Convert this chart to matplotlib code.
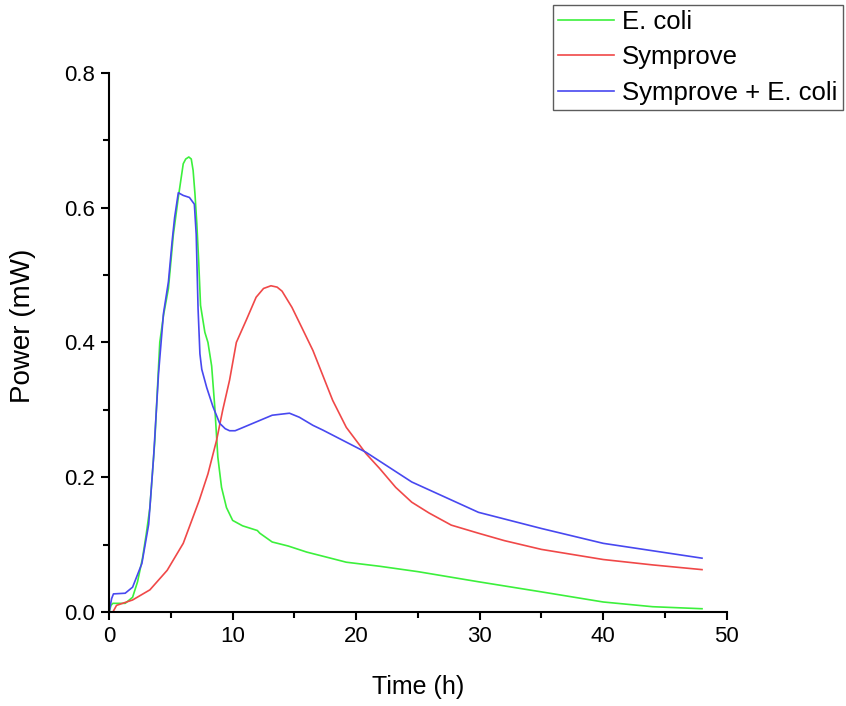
import matplotlib
matplotlib.use("Agg")
import matplotlib.pyplot as plt
from matplotlib.ticker import MultipleLocator, FormatStrFormatter

plt.rcParams['font.family'] = ['Liberation Sans', 'DejaVu Sans']

ecoli_t = [0, 0.15, 0.3, 1.3, 1.9, 2.3, 2.7, 3.0, 3.3, 3.7, 4.1, 4.4, 4.8, 5.2, 5.6, 6.0, 6.2, 6.45,
           6.65, 6.8, 6.95, 7.1, 7.25, 7.4, 7.75, 8.0, 8.3, 8.55, 8.8, 9.1, 9.5, 10.0, 10.8, 12.0,
           12.2, 13.2, 14.5, 16.0, 17.5, 19.2, 21.9, 25.0, 29.9, 35.0, 40.0, 44.0, 48.0]
ecoli_p = [0, 0.010, 0.013, 0.013, 0.022, 0.045, 0.08, 0.115, 0.155, 0.255, 0.40, 0.44, 0.48, 0.56,
           0.615, 0.665, 0.672, 0.675, 0.672, 0.655, 0.62, 0.576, 0.52, 0.455, 0.415, 0.40, 0.365,
           0.305, 0.23, 0.185, 0.155, 0.136, 0.128, 0.121, 0.117, 0.104, 0.098, 0.089, 0.082,
           0.074, 0.068, 0.060, 0.045, 0.030, 0.015, 0.008, 0.005]

sym_t = [0.3, 0.6, 1.9, 3.3, 4.7, 6.0, 7.3, 8.0, 8.7, 9.2, 9.75, 10.3, 11.1, 11.9, 12.5, 13.1,
         13.6, 14.0, 14.8, 15.6, 16.5, 17.3, 18.1, 19.2, 20.8, 21.9, 23.2, 24.5, 25.9, 27.7,
         29.9, 32.0, 35.0, 40.0, 44.0, 48.0]
sym_p = [0, 0.010, 0.018, 0.033, 0.062, 0.102, 0.166, 0.205, 0.255, 0.30, 0.344, 0.40, 0.433,
         0.467, 0.480, 0.484, 0.482, 0.476, 0.452, 0.422, 0.388, 0.351, 0.314, 0.274, 0.235,
         0.213, 0.185, 0.163, 0.147, 0.129, 0.117, 0.106, 0.093, 0.078, 0.070, 0.063]

mix_t = [0, 0.2, 0.35, 1.3, 1.9, 2.65, 3.2, 3.6, 4.0, 4.4, 4.8, 5.1, 5.3, 5.6, 6.0, 6.5, 6.9,
         7.05, 7.2, 7.35, 7.5, 7.9, 8.4, 8.95, 9.4, 9.75, 10.2, 10.6, 11.9, 13.2, 14.6, 15.4,
         16.5, 17.3, 20.8, 24.5, 29.9, 35.0, 40.0, 48.0]
mix_p = [0, 0.02, 0.027, 0.028, 0.037, 0.072, 0.13, 0.23, 0.354, 0.443, 0.49, 0.55, 0.585,
         0.622, 0.618, 0.615, 0.605, 0.56, 0.45, 0.383, 0.36, 0.333, 0.305, 0.28, 0.272, 0.269,
         0.269, 0.272, 0.282, 0.292, 0.295, 0.289, 0.277, 0.27, 0.237, 0.193, 0.148, 0.124,
         0.102, 0.080]

labels = ["E. coli", "Symprove", "Symprove + E. coli"]

fig = plt.figure(figsize=(8.46, 7.06), dpi=100)
ax = fig.add_axes([0.129, 0.133, 0.730, 0.764])

l1, = ax.plot(ecoli_t, ecoli_p, color='#3cf03c', lw=1.2, label=labels[0])
l2, = ax.plot(sym_t, sym_p, color='#f04848', lw=1.2, label=labels[1])
l3, = ax.plot(mix_t, mix_p, color='#4848f0', lw=1.2, label=labels[2])

ax.set_xlim(0, 50)
ax.set_ylim(0, 0.8)
ax.spines['top'].set_visible(False)
ax.spines['right'].set_visible(False)
for s in ('left', 'bottom'):
    ax.spines[s].set_linewidth(1.5)
ax.xaxis.set_major_locator(MultipleLocator(10))
ax.xaxis.set_minor_locator(MultipleLocator(5))
ax.yaxis.set_major_locator(MultipleLocator(0.2))
ax.yaxis.set_minor_locator(MultipleLocator(0.1))
ax.yaxis.set_major_formatter(FormatStrFormatter('%.1f'))
ax.tick_params(which='major', direction='out', length=6, width=1.5, labelsize=16, pad=4)
ax.tick_params(which='minor', direction='out', length=4, width=1.5)
ax.set_xlabel('Time (h)', fontsize=18, labelpad=20)
ax.set_ylabel('Power (mW)', fontsize=20)
ax.yaxis.set_label_coords(-0.118, 0.53)

leg = fig.legend(handles=[l1, l2, l3], loc='upper right', bbox_to_anchor=(0.999, 0.997),
                 fontsize=18.5, frameon=True, fancybox=False, edgecolor='#333333',
                 handlelength=2.2, handletextpad=0.3, borderpad=0.2, labelspacing=0.45,
                 borderaxespad=0.1)
leg.get_frame().set_linewidth(1.0)

fig.savefig('out.png', dpi=100)
